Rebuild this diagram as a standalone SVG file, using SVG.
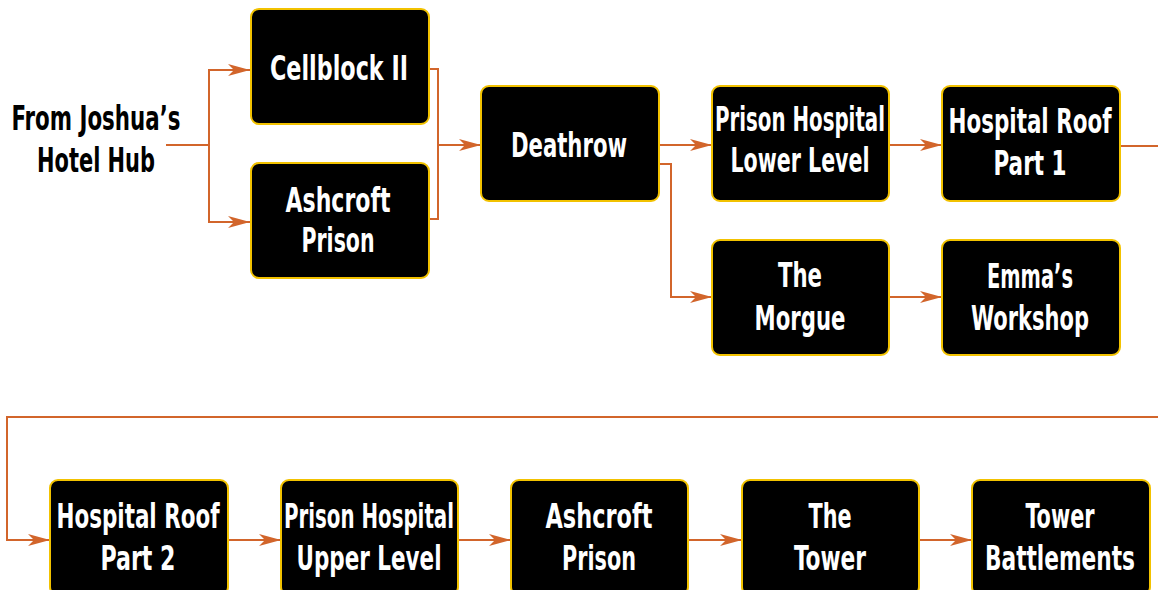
<svg xmlns="http://www.w3.org/2000/svg" width="1158" height="590" viewBox="0 0 1158 590">
<style>
.box{fill:#000;stroke:#f2c200;stroke-width:2}
.t{fill:#fff;font-family:"Liberation Sans Narrow","DejaVu Sans Condensed","Liberation Sans",sans-serif;font-weight:bold;font-size:34px}
.h{fill:#000;font-family:"Liberation Sans Narrow","DejaVu Sans Condensed","Liberation Sans",sans-serif;font-weight:bold;font-size:34px}
.c{fill:none;stroke:#d2652b;stroke-width:2}
.ca{fill:none;stroke:#d2652b;stroke-width:2;marker-end:url(#ah)}
</style>
<defs>
<marker id="ah" markerUnits="userSpaceOnUse" markerWidth="22" markerHeight="12" refX="22" refY="6" orient="auto">
<path d="M0,0 L22,6 L0,12 L6,6 z" fill="#d2652b"/>
</marker>
</defs>
<g id="connectors">
<polyline class="c" points="166,145 209,145"/>
<polyline class="ca" points="209,145 209,70 250,70"/>
<polyline class="ca" points="209,145 209,222 250,222"/>
<polyline class="c" points="429,69 438,69 438,219 429,219"/>
<polyline class="ca" points="438,145 481,145"/>
<polyline class="ca" points="659,145 712,145"/>
<polyline class="ca" points="659,164 671,164 671,297 712,297"/>
<polyline class="ca" points="889,145 942,145"/>
<polyline class="c" points="1120,146 1158,146"/>
<polyline class="ca" points="889,297 942,297"/>
<polyline class="ca" points="1158,417 7,417 7,540 50,540"/>
<polyline class="ca" points="228,540 281,540"/>
<polyline class="ca" points="458,540 511,540"/>
<polyline class="ca" points="688,540 742,540"/>
<polyline class="ca" points="919,540 972,540"/>
</g>
<g id="hub">
<text class="h" x="96" y="130" text-anchor="middle" textLength="169" lengthAdjust="spacingAndGlyphs">From Joshua’s</text>
<text class="h" x="96" y="172" text-anchor="middle" textLength="118" lengthAdjust="spacingAndGlyphs">Hotel Hub</text>
</g>
<g id="cellblock2">
<rect class="box" x="251" y="9" width="178" height="115" rx="8"/>
<text class="t" x="339" y="80" text-anchor="middle" textLength="138" lengthAdjust="spacingAndGlyphs">Cellblock II</text>
</g>
<g id="ashcroft1">
<rect class="box" x="251" y="163" width="178" height="115" rx="8"/>
<text class="t" x="338" y="212" text-anchor="middle" textLength="105" lengthAdjust="spacingAndGlyphs">Ashcroft</text>
<text class="t" x="338" y="252" text-anchor="middle" textLength="73" lengthAdjust="spacingAndGlyphs">Prison</text>
</g>
<g id="deathrow">
<rect class="box" x="481" y="86" width="178" height="115" rx="8"/>
<text class="t" x="569" y="157" text-anchor="middle" textLength="116" lengthAdjust="spacingAndGlyphs">Deathrow</text>
</g>
<g id="hospitalLower">
<rect class="box" x="712" y="86" width="177" height="115" rx="8"/>
<text class="t" x="800" y="131" text-anchor="middle" textLength="170" lengthAdjust="spacingAndGlyphs">Prison Hospital</text>
<text class="t" x="800" y="172" text-anchor="middle" textLength="139" lengthAdjust="spacingAndGlyphs">Lower Level</text>
</g>
<g id="roof1">
<rect class="box" x="942" y="86" width="178" height="115" rx="8"/>
<text class="t" x="1030" y="133" text-anchor="middle" textLength="163" lengthAdjust="spacingAndGlyphs">Hospital Roof</text>
<text class="t" x="1030" y="175" text-anchor="middle" textLength="73" lengthAdjust="spacingAndGlyphs">Part 1</text>
</g>
<g id="morgue">
<rect class="box" x="712" y="240" width="177" height="115" rx="8"/>
<text class="t" x="800" y="287" text-anchor="middle" textLength="44" lengthAdjust="spacingAndGlyphs">The</text>
<text class="t" x="800" y="330" text-anchor="middle" textLength="91" lengthAdjust="spacingAndGlyphs">Morgue</text>
</g>
<g id="emma">
<rect class="box" x="942" y="240" width="178" height="115" rx="8"/>
<text class="t" x="1030" y="288" text-anchor="middle" textLength="86" lengthAdjust="spacingAndGlyphs">Emma’s</text>
<text class="t" x="1030" y="330" text-anchor="middle" textLength="118" lengthAdjust="spacingAndGlyphs">Workshop</text>
</g>
<g id="roof2">
<rect class="box" x="50" y="480" width="178" height="115" rx="8"/>
<text class="t" x="138" y="528" text-anchor="middle" textLength="163" lengthAdjust="spacingAndGlyphs">Hospital Roof</text>
<text class="t" x="138" y="570" text-anchor="middle" textLength="75" lengthAdjust="spacingAndGlyphs">Part 2</text>
</g>
<g id="hospitalUpper">
<rect class="box" x="281" y="480" width="177" height="115" rx="8"/>
<text class="t" x="369" y="528" text-anchor="middle" textLength="170" lengthAdjust="spacingAndGlyphs">Prison Hospital</text>
<text class="t" x="369" y="570" text-anchor="middle" textLength="145" lengthAdjust="spacingAndGlyphs">Upper Level</text>
</g>
<g id="ashcroft2">
<rect class="box" x="511" y="480" width="177" height="115" rx="8"/>
<text class="t" x="599" y="528" text-anchor="middle" textLength="107" lengthAdjust="spacingAndGlyphs">Ashcroft</text>
<text class="t" x="599" y="570" text-anchor="middle" textLength="74" lengthAdjust="spacingAndGlyphs">Prison</text>
</g>
<g id="tower">
<rect class="box" x="742" y="480" width="177" height="115" rx="8"/>
<text class="t" x="830" y="528" text-anchor="middle" textLength="43" lengthAdjust="spacingAndGlyphs">The</text>
<text class="t" x="830" y="570" text-anchor="middle" textLength="72" lengthAdjust="spacingAndGlyphs">Tower</text>
</g>
<g id="battlements">
<rect class="box" x="972" y="480" width="178" height="115" rx="8"/>
<text class="t" x="1060" y="528" text-anchor="middle" textLength="69" lengthAdjust="spacingAndGlyphs">Tower</text>
<text class="t" x="1060" y="570" text-anchor="middle" textLength="150" lengthAdjust="spacingAndGlyphs">Battlements</text>
</g>
</svg>
